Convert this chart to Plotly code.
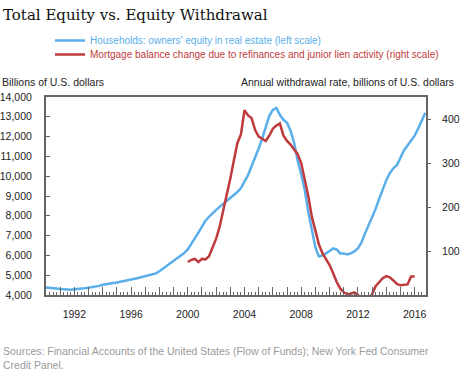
import pandas as pd
import plotly.graph_objects as go

# Households: owners' equity in real estate, billions (quarterly from 1990Q1)
equity_start = "1990-01-01"
equity_values = [
    4380, 4370, 4360, 4330, 4300, 4280, 4270, 4270,
    4290, 4320, 4330, 4340, 4370, 4400, 4420, 4460,
    4520, 4560, 4590, 4610, 4630, 4660, 4700, 4740,
    4780, 4820, 4860, 4900, 4950, 4990, 5040, 5090,
    5200, 5330, 5460, 5580, 5700, 5830, 5960, 6120,
    6300, 6560, 6850, 7150, 7450, 7750, 7950, 8150,
    8300, 8450, 8600, 8780, 8900, 9050, 9200, 9400,
    9700, 10050, 10500, 10930, 11400, 11900, 12500, 13050,
    13350, 13450, 13100, 12850, 12700, 12300, 11700, 10800,
    10100, 9300, 8200, 7300, 6400, 5950, 6000, 6100,
    6250, 6350, 6300, 6100, 6100, 6050, 6100, 6200,
    6350, 6650, 7100, 7500, 7900, 8350, 8850, 9350,
    9800, 10150, 10400, 10550, 10900, 11300, 11550, 11800,
    12050, 12400, 12800, 13200,
]

# Mortgage balance change due to refinances and junior lien activity (quarterly from 2000Q1)
withdrawal_start = "2000-01-01"
withdrawal_values = [
    75, 80, 82, 75, 82, 81, 88, 110,
    128, 155, 190, 222, 265, 305, 345, 365,
    420, 408, 402, 375, 360, 355, 350, 362,
    378, 385, 390, 362, 350, 342, 330, 320,
    300, 265, 225, 178, 145, 115, 95, 83,
    68, 50, 30, 15, 6, 2, 3, 6,
    0, -12, -18, -10, 2, 20, 30, 38,
    43, 40, 33, 25, 22, 23, 24, 42,
    42,
]

left_ticks = list(range(4000, 15000, 1000))
right_ticks = [100, 200, 300, 400]
years = list(range(1990, 2017))
label_years = [1992, 1996, 2000, 2004, 2008, 2012, 2016]

equity_dates = pd.date_range(equity_start, periods=len(equity_values), freq="QS")
withdrawal_dates = pd.date_range(withdrawal_start, periods=len(withdrawal_values), freq="QS")

BLUE = "#5aaeea"
RED = "#bf3a3c"
FONT = "Liberation Sans, Arial, sans-serif"
AXIS = "#666666"

fig = go.Figure()
fig.add_trace(go.Scatter(
    x=equity_dates, y=equity_values, mode="lines",
    name=f"<span style='color:{BLUE}'>Households: owners' equity in real estate (left scale)</span>",
    line=dict(color=BLUE, width=2.5), yaxis="y", legend="legend",
))
fig.add_trace(go.Scatter(
    x=withdrawal_dates, y=withdrawal_values, mode="lines",
    name=f"<span style='color:{RED}'>Mortgage balance change due to refinances and junior lien activity (right scale)</span>",
    line=dict(color=RED, width=2.5), yaxis="y2", legend="legend2",
))

legend_common = dict(xref="container", yref="container", xanchor="left", yanchor="top",
                     font=dict(size=10), bgcolor="rgba(0,0,0,0)", tracegroupgap=0)

fig.update_layout(
    width=460, height=372,
    margin=dict(l=46, r=34, t=97, b=77, autoexpand=False),
    paper_bgcolor="white", plot_bgcolor="white",
    font=dict(family=FONT, size=10.5, color="#222222"),
    title=dict(
        text="Total Equity vs. Equity Withdrawal",
        font=dict(family="DejaVu Serif, serif", size=15, color="#111111"),
        x=3 / 460, xanchor="left", xref="container",
        y=1 - 15 / 372, yanchor="middle", yref="container",
    ),
    showlegend=True,
    legend=dict(x=50 / 460, y=1 - 26 / 372, **legend_common),
    legend2=dict(x=50 / 460, y=1 - 40 / 372, **legend_common),
    xaxis=dict(
        type="date", automargin=False,
        range=["1990-01-01", "2016-10-20"],
        tickvals=[f"{y}-01-01" for y in years],
        ticktext=[str(y) if y in label_years else "" for y in years],
        ticks="inside", ticklen=8, tickcolor=AXIS, tickwidth=1,
        minor=dict(dtick="M3", ticks="inside", ticklen=3, tickcolor=AXIS, tickwidth=1, showgrid=False),
        showline=True, linecolor=AXIS, linewidth=2, mirror=True,
        showgrid=False, zeroline=False,
        ticklabelstandoff=8,
        tickfont=dict(size=10.5),
    ),
    yaxis=dict(
        range=[4000, 14000], automargin=False,
        tickvals=left_ticks, tickformat=",",
        ticks="inside", ticklen=4, tickcolor=AXIS,
        showline=True, linecolor=AXIS, linewidth=2,
        showgrid=False, zeroline=False,
        ticklabelstandoff=10,
        tickfont=dict(size=10.5),
    ),
    yaxis2=dict(
        range=[0, 450], overlaying="y", side="right", automargin=False,
        tickvals=right_ticks,
        ticks="outside", ticklen=3, tickcolor=AXIS,
        showline=True, linecolor=AXIS, linewidth=2,
        showgrid=False, zeroline=False,
        ticklabelstandoff=9,
        tickfont=dict(size=10.5),
    ),
    annotations=[
        dict(text="Billions of U.S. dollars", xref="paper", yref="paper",
             x=-46 / 380, y=(295 - 82) / 198, xanchor="left", yanchor="middle",
             showarrow=False, font=dict(size=10.5, color="#222222")),
        dict(text="Annual withdrawal rate, billions of U.S. dollars", xref="paper", yref="paper",
             x=(456 - 46) / 380, y=(295 - 82) / 198, xanchor="right", yanchor="middle",
             showarrow=False, font=dict(size=10.5, color="#222222")),
        dict(text="Sources: Financial Accounts of the United States (Flow of Funds); New York Fed Consumer<br>Credit Panel.",
             xref="paper", yref="paper", x=-45 / 380, y=(295 - 343) / 198,
             xanchor="left", yanchor="top", align="left", showarrow=False,
             font=dict(size=10.5, color="#9a9a9a")),
    ],
)

fig.write_html("out.html", config={"displayModeBar": False},
               post_script="document.body.style.margin='0';")
